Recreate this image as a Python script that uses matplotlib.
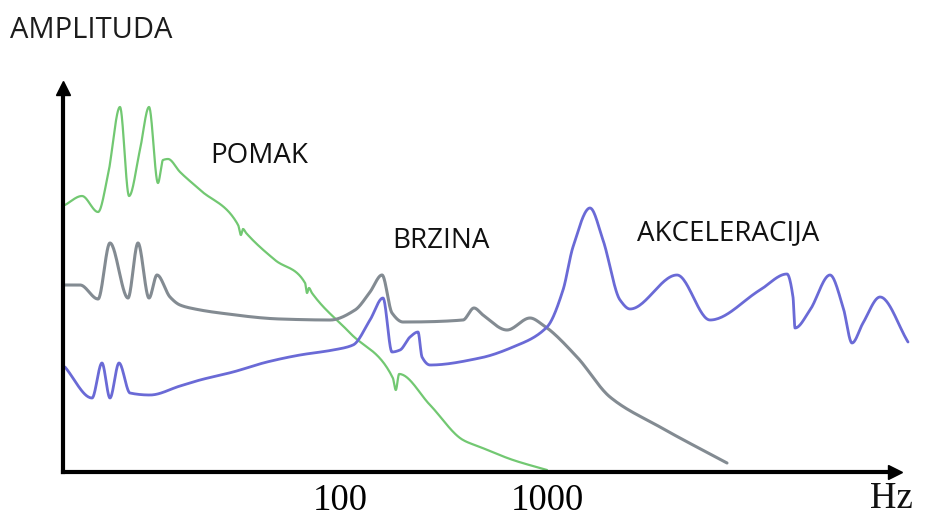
import numpy as np
import matplotlib
matplotlib.use("Agg")
import matplotlib.pyplot as plt
from matplotlib.ticker import NullLocator

# ---------------- data (frequency in Hz, amplitude in arbitrary units) -------------
pomak_hz = [4.69, 5.67, 6.78, 7.57, 8.65, 9.57, 10.8, 11.95, 13.2, 13.96, 14.76, 16.87,
            21.1, 32.2, 33.2, 34.0, 35.2, 48.53, 67.8, 69.3, 70.8, 73.2, 111.8, 180, 186, 193,
            272.2, 393, 475, 685, 1000]
pomak_amp = [66.75, 69, 65, 74.25, 91.25, 69, 80.5, 91.25, 72.25, 78, 78.25, 75,
             70.5, 61.75, 59.25, 60.75, 59.75, 53, 47.25, 44.75, 46, 44.75, 34.75, 23.5, 20.5, 24.5,
             16.75, 8, 6.25, 3, 0.5]

brzina_hz = [4.69, 5.55, 6.78, 7.74, 9.46, 10.57, 11.95, 13.06, 15.09, 16.87, 19.93,
             26.32, 51.3, 89.5, 118.2, 139.6, 159.6, 178.3, 201.5, 392.8, 443.9, 490.7,
             640.9, 827.7, 956.5, 1396, 2015, 3515, 7406]
brzina_amp = [46.75, 46.75, 43.25, 57.25, 43.5, 57.25, 43.5, 49.25, 43.75, 41.75, 40.75,
              39.75, 38.25, 38, 40.5, 45, 49.25, 39.75, 37.5, 38, 41, 39.25,
              35.5, 38.5, 36.75, 28.75, 18.75, 11.25, 2.25]

akcel_hz = [4.69, 6.34, 7.08, 7.74, 8.56, 9.67, 12.08, 16.87, 21.07, 30.42,
            44.39, 64.09, 92.51, 115.6, 139.6, 161.3, 178.3, 194.9, 217.9, 238.1,
            249.0, 272.2, 474.7, 685, 1000, 1195, 1335, 1613, 1864, 2253,
            2518, 4246, 6130, 10690, 14430, 15430, 15780, 18640, 23290, 26920,
            29750, 33620, 40620, 55460]
akcel_amp = [26.25, 18.5, 27.25, 18.5, 27.25, 19.75, 19.25, 21.5, 23, 25,
             27.5, 29.25, 30.5, 31.75, 38, 43.5, 30, 30.5, 33.75, 35,
             28.75, 26.75, 28.5, 31.25, 36.25, 45.5, 56.25, 66, 58, 43,
             40.75, 49.25, 38, 45.5, 49.5, 43.75, 36, 40.5, 49.25, 41.25,
             32.25, 37.25, 43.75, 32.5]

tick_values = [100, 1000]
tick_labels = ["100", "1000"]
series_labels = ["POMAK", "BRZINA", "AKCELERACIJA"]


def smooth(xs, ys, per=30):
    """Monotone cubic (PCHIP) rendering of a curve through the given points."""
    x = np.asarray(xs, float)
    y = np.asarray(ys, float)
    h = np.diff(x)
    dl = np.diff(y) / h
    n = len(x)
    d = np.zeros(n)
    for k in range(1, n - 1):
        if dl[k - 1] * dl[k] > 0:
            w1 = 2 * h[k] + h[k - 1]
            w2 = h[k] + 2 * h[k - 1]
            d[k] = (w1 + w2) / (w1 / dl[k - 1] + w2 / dl[k])
    d[0] = dl[0]
    d[-1] = dl[-1]
    t = np.linspace(0, 1, per, endpoint=False)
    h00 = 2 * t**3 - 3 * t**2 + 1
    h10 = t**3 - 2 * t**2 + t
    h01 = -2 * t**3 + 3 * t**2
    h11 = t**3 - t**2
    X, Y = [], []
    for k in range(n - 1):
        X.append(x[k] + t * h[k])
        Y.append(h00 * y[k] + h10 * h[k] * d[k] + h01 * y[k + 1] + h11 * h[k] * d[k + 1])
    X.append([x[-1]])
    Y.append([y[-1]])
    return np.concatenate(X), np.concatenate(Y)


W, H = 949, 517
fig = plt.figure(figsize=(W / 100, H / 100), dpi=100)
fig.patch.set_facecolor("white")
ax = fig.add_axes([63 / W, 45 / H, 832 / W, 384 / H])
ax.set_facecolor("white")

ax.set_xscale("log")
ax.set_xlim(4.59, 47990)
ax.set_ylim(0, 96)

series = [
    (pomak_hz, pomak_amp, "#72c872", 1.6),
    (brzina_hz, brzina_amp, "#838b92", 2.2),
    (akcel_hz, akcel_amp, "#6a6ad6", 2.0),
]
for hz, amp, col, lw in series:
    lx, ly = smooth(np.log10(hz), amp)
    ax.plot(10 ** lx, ly, color=col, lw=lw, solid_capstyle="round", clip_on=False)

for s in ["top", "right"]:
    ax.spines[s].set_visible(False)
for s in ["left", "bottom"]:
    ax.spines[s].set_linewidth(3)
    ax.spines[s].set_color("black")

ax.plot(1, 0, ">", color="black", ms=10, transform=ax.transAxes, clip_on=False)
ax.plot(0, 1, "^", color="black", ms=10, transform=ax.transAxes, clip_on=False)

ax.set_xticks(tick_values)
ax.set_xticklabels(tick_labels)
ax.xaxis.set_minor_locator(NullLocator())
ax.tick_params(axis="x", length=0, pad=8.5, labelsize=26.5)
for lab in ax.get_xticklabels():
    lab.set_family("Liberation Serif")
ax.set_yticks([])

sans = "Open Sans"
fig.text(10 / W, 1 - 38 / H, "AMPLITUDA", fontsize=21, family=sans,
         va="baseline", ha="left", color="#1c1c1c")
fig.text(210 / W, 1 - 163 / H, series_labels[0], fontsize=20, family=sans,
         va="baseline", ha="left", color="#111111")
fig.text(392 / W, 1 - 248 / H, series_labels[1], fontsize=20, family=sans,
         va="baseline", ha="left", color="#111111")
fig.text(637 / W, 1 - 240 / H, series_labels[2], fontsize=20, family=sans,
         va="baseline", ha="left", color="#111111")
fig.text(870 / W, 1 - 508 / H, "Hz", fontsize=26.5, family="Liberation Serif",
         va="baseline", ha="left", color="#111111")

fig.savefig("out.png", dpi=100)
